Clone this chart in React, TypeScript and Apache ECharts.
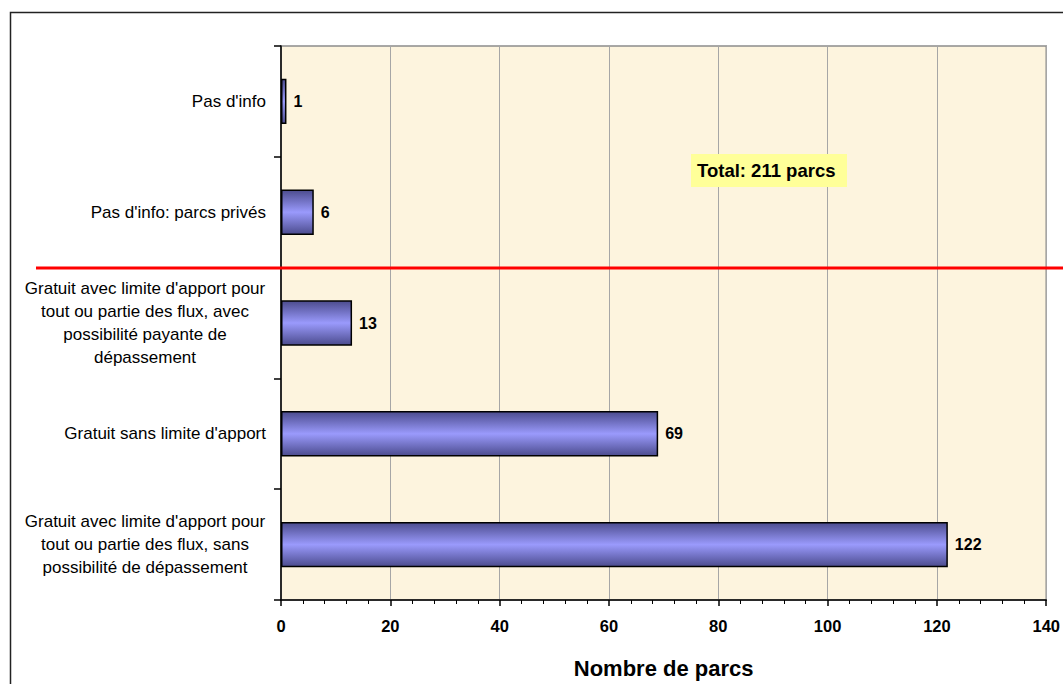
import React, { useEffect, useRef } from "react";
import * as echarts from "echarts";

// Categories listed bottom to top, as the category axis places them
const categories: string[] = [
  "Gratuit avec limite d'apport pour\ntout ou partie des flux, sans\npossibilité de dépassement",
  "Gratuit sans limite d'apport",
  "Gratuit avec limite d'apport pour\ntout ou partie des flux, avec\npossibilité payante de\ndépassement",
  "Pas d'info: parcs privés",
  "Pas d'info",
];
const parcs: number[] = [122, 69, 13, 6, 1];
const xTicks = { min: 0, max: 140, interval: 20 };
const axisTitle = "Nombre de parcs";
const totalNote = "Total: 211 parcs";

const FONT = "'Liberation Sans', Arial, sans-serif";

export default function App() {
  const ref = useRef<HTMLDivElement>(null);

  useEffect(() => {
    if (!ref.current) return;
    const chart = echarts.init(ref.current, undefined, { renderer: "svg" });

    chart.setOption({
      animation: false,
      textStyle: { fontFamily: FONT },
      grid: {
        left: 281,
        right: 16,
        top: 46,
        bottom: 82,
        show: true,
        backgroundColor: "#fdf4de",
        borderColor: "#8c8c8c",
        borderWidth: 1.5,
      },
      xAxis: {
        type: "value",
        min: xTicks.min,
        max: xTicks.max,
        interval: xTicks.interval,
        name: axisTitle,
        nameLocation: "middle",
        nameGap: 57,
        nameTextStyle: { fontFamily: FONT, fontSize: 22, fontWeight: "bold", color: "#000" },
        axisLine: { show: true, lineStyle: { color: "#000", width: 1.5 } },
        axisTick: { show: true, length: 6, lineStyle: { color: "#000", width: 1.5 } },
        minorTick: { show: true, splitNumber: 5, length: 4, lineStyle: { color: "#000", width: 1 } },
        axisLabel: { fontFamily: FONT, fontSize: 16.5, fontWeight: "bold", color: "#000", margin: 17 },
        splitLine: { show: true, lineStyle: { color: "#a6a6a6", width: 1 } },
      },
      yAxis: {
        type: "category",
        data: categories,
        axisLine: { show: true, lineStyle: { color: "#000", width: 1.5 } },
        axisTick: { show: true, length: 7, lineStyle: { color: "#000", width: 1.5 } },
        axisLabel: {
          margin: 15,
          color: "#000",
          fontFamily: FONT,
          fontSize: 17,
          formatter: (v: string) =>
            v.indexOf("\n") >= 0
              ? v.split("\n").map((l) => `{c|${l}}`).join("\n")
              : `{s|${v}}`,
          rich: {
            c: { width: 242, align: "center", fontFamily: FONT, fontSize: 17, lineHeight: 23, color: "#000" },
            s: { fontFamily: FONT, fontSize: 17, color: "#000" },
          },
        },
        splitLine: { show: false },
      },
      series: [
        {
          type: "bar",
          data: parcs,
          barWidth: "41%",
          itemStyle: {
            borderColor: "#000",
            borderWidth: 1.5,
            color: new echarts.graphic.LinearGradient(0, 0, 0, 1, [
              { offset: 0, color: "#4c4c8e" },
              { offset: 0.5, color: "#9a9afc" },
              { offset: 1, color: "#4c4c8e" },
            ]),
          },
          label: {
            show: true,
            position: "right",
            distance: 7,
            fontFamily: FONT,
            fontSize: 16,
            fontWeight: "bold",
            color: "#000",
          },
        },
      ],
      graphic: [
        {
          type: "rect",
          left: 8,
          top: 10,
          shape: { width: 1200, height: 800 },
          silent: true,
          z: -10,
          style: { fill: "none", stroke: "#222", lineWidth: 1.5 },
        },
        {
          type: "line",
          shape: { x1: 36, y1: 268, x2: 1063, y2: 268 },
          z: 100,
          style: { stroke: "#ff0000", lineWidth: 3 },
        },
        {
          type: "rect",
          shape: { x: 691, y: 154, width: 156, height: 33 },
          z: 100,
          style: { fill: "#ffff99" },
        },
        {
          type: "text",
          x: 697,
          y: 170.5,
          z: 101,
          style: {
            text: totalNote,
            fontFamily: FONT,
            fontSize: 18.5,
            fontWeight: "bold",
            fill: "#000",
            verticalAlign: "middle",
          },
        },
      ],
    });

    return () => chart.dispose();
  }, []);

  return (
    <div
      ref={ref}
      style={{ position: "fixed", left: 0, top: 0, width: 1063, height: 684, background: "#fff" }}
    />
  );
}
